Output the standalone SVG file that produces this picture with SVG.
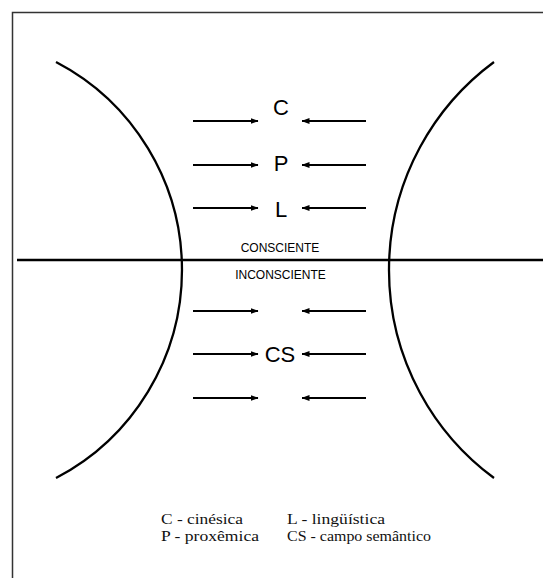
<svg xmlns="http://www.w3.org/2000/svg" width="543" height="579" viewBox="0 0 543 579">
<style>
.frame{fill:none;stroke:#333;stroke-width:1.5}
.curve{fill:none;stroke:#000;stroke-width:2.3}
.axis{fill:none;stroke:#000;stroke-width:2.6}
.arr{fill:none;stroke:#000;stroke-width:2;marker-end:url(#ah)}
.big{font-family:"Liberation Sans",Arial,sans-serif;font-size:22px;fill:#000;text-anchor:middle}
.small{font-family:"Liberation Sans",Arial,sans-serif;font-size:12px;fill:#000;text-anchor:middle}
.leg{font-family:"Liberation Serif","Times New Roman",serif;font-size:15px;fill:#111}
</style>
<defs>
<marker id="ah" viewBox="0 0 8 6" refX="7.5" refY="3" markerWidth="4" markerHeight="3" orient="auto" markerUnits="strokeWidth">
<path d="M0,0 L8,3 L0,6 Z" fill="#000"/>
</marker>
</defs>
<rect width="543" height="579" fill="#fff"/>
<g id="frame">
<path class="frame" d="M543,12.5 H12.5 V578"/>
</g>
<g id="left-arc">
<path class="curve" d="M56,62 A234.7,234.7 0 0 1 56,478"/>
</g>
<g id="right-arc">
<path class="curve" d="M494,62 A258.5,258.5 0 0 0 494,478"/>
</g>
<g id="divider">
<line class="axis" x1="17" y1="260" x2="543" y2="260"/>
</g>
<g id="connectors">
<line class="arr" x1="193" y1="121" x2="258" y2="121"/>
<line class="arr" x1="366" y1="121" x2="302" y2="121"/>
<line class="arr" x1="193" y1="165" x2="258" y2="165"/>
<line class="arr" x1="366" y1="165" x2="302" y2="165"/>
<line class="arr" x1="193" y1="208" x2="258" y2="208"/>
<line class="arr" x1="366" y1="208" x2="302" y2="208"/>
<line class="arr" x1="193" y1="311" x2="258" y2="311"/>
<line class="arr" x1="366" y1="311" x2="302" y2="311"/>
<line class="arr" x1="193" y1="354" x2="258" y2="354"/>
<line class="arr" x1="366" y1="354" x2="302" y2="354"/>
<line class="arr" x1="193" y1="398" x2="258" y2="398"/>
<line class="arr" x1="366" y1="398" x2="302" y2="398"/>
</g>
<g id="node-C"><text class="big" x="281" y="115">C</text></g>
<g id="node-P"><text class="big" x="281" y="171">P</text></g>
<g id="node-L"><text class="big" x="281" y="217">L</text></g>
<g id="node-CS"><text class="big" x="280" y="362">CS</text></g>
<g id="label-consciente"><text class="small" x="280" y="252">CONSCIENTE</text></g>
<g id="label-inconsciente"><text class="small" x="280.5" y="279">INCONSCIENTE</text></g>
<g id="legend">
<text class="leg" x="161" y="524" textLength="82" lengthAdjust="spacingAndGlyphs">C - cinésica</text>
<text class="leg" x="287" y="524" textLength="98" lengthAdjust="spacingAndGlyphs">L - lingüística</text>
<text class="leg" x="161" y="541" textLength="98" lengthAdjust="spacingAndGlyphs">P - proxêmica</text>
<text class="leg" x="287" y="541" textLength="144" lengthAdjust="spacingAndGlyphs">CS - campo semântico</text>
</g>
</svg>
